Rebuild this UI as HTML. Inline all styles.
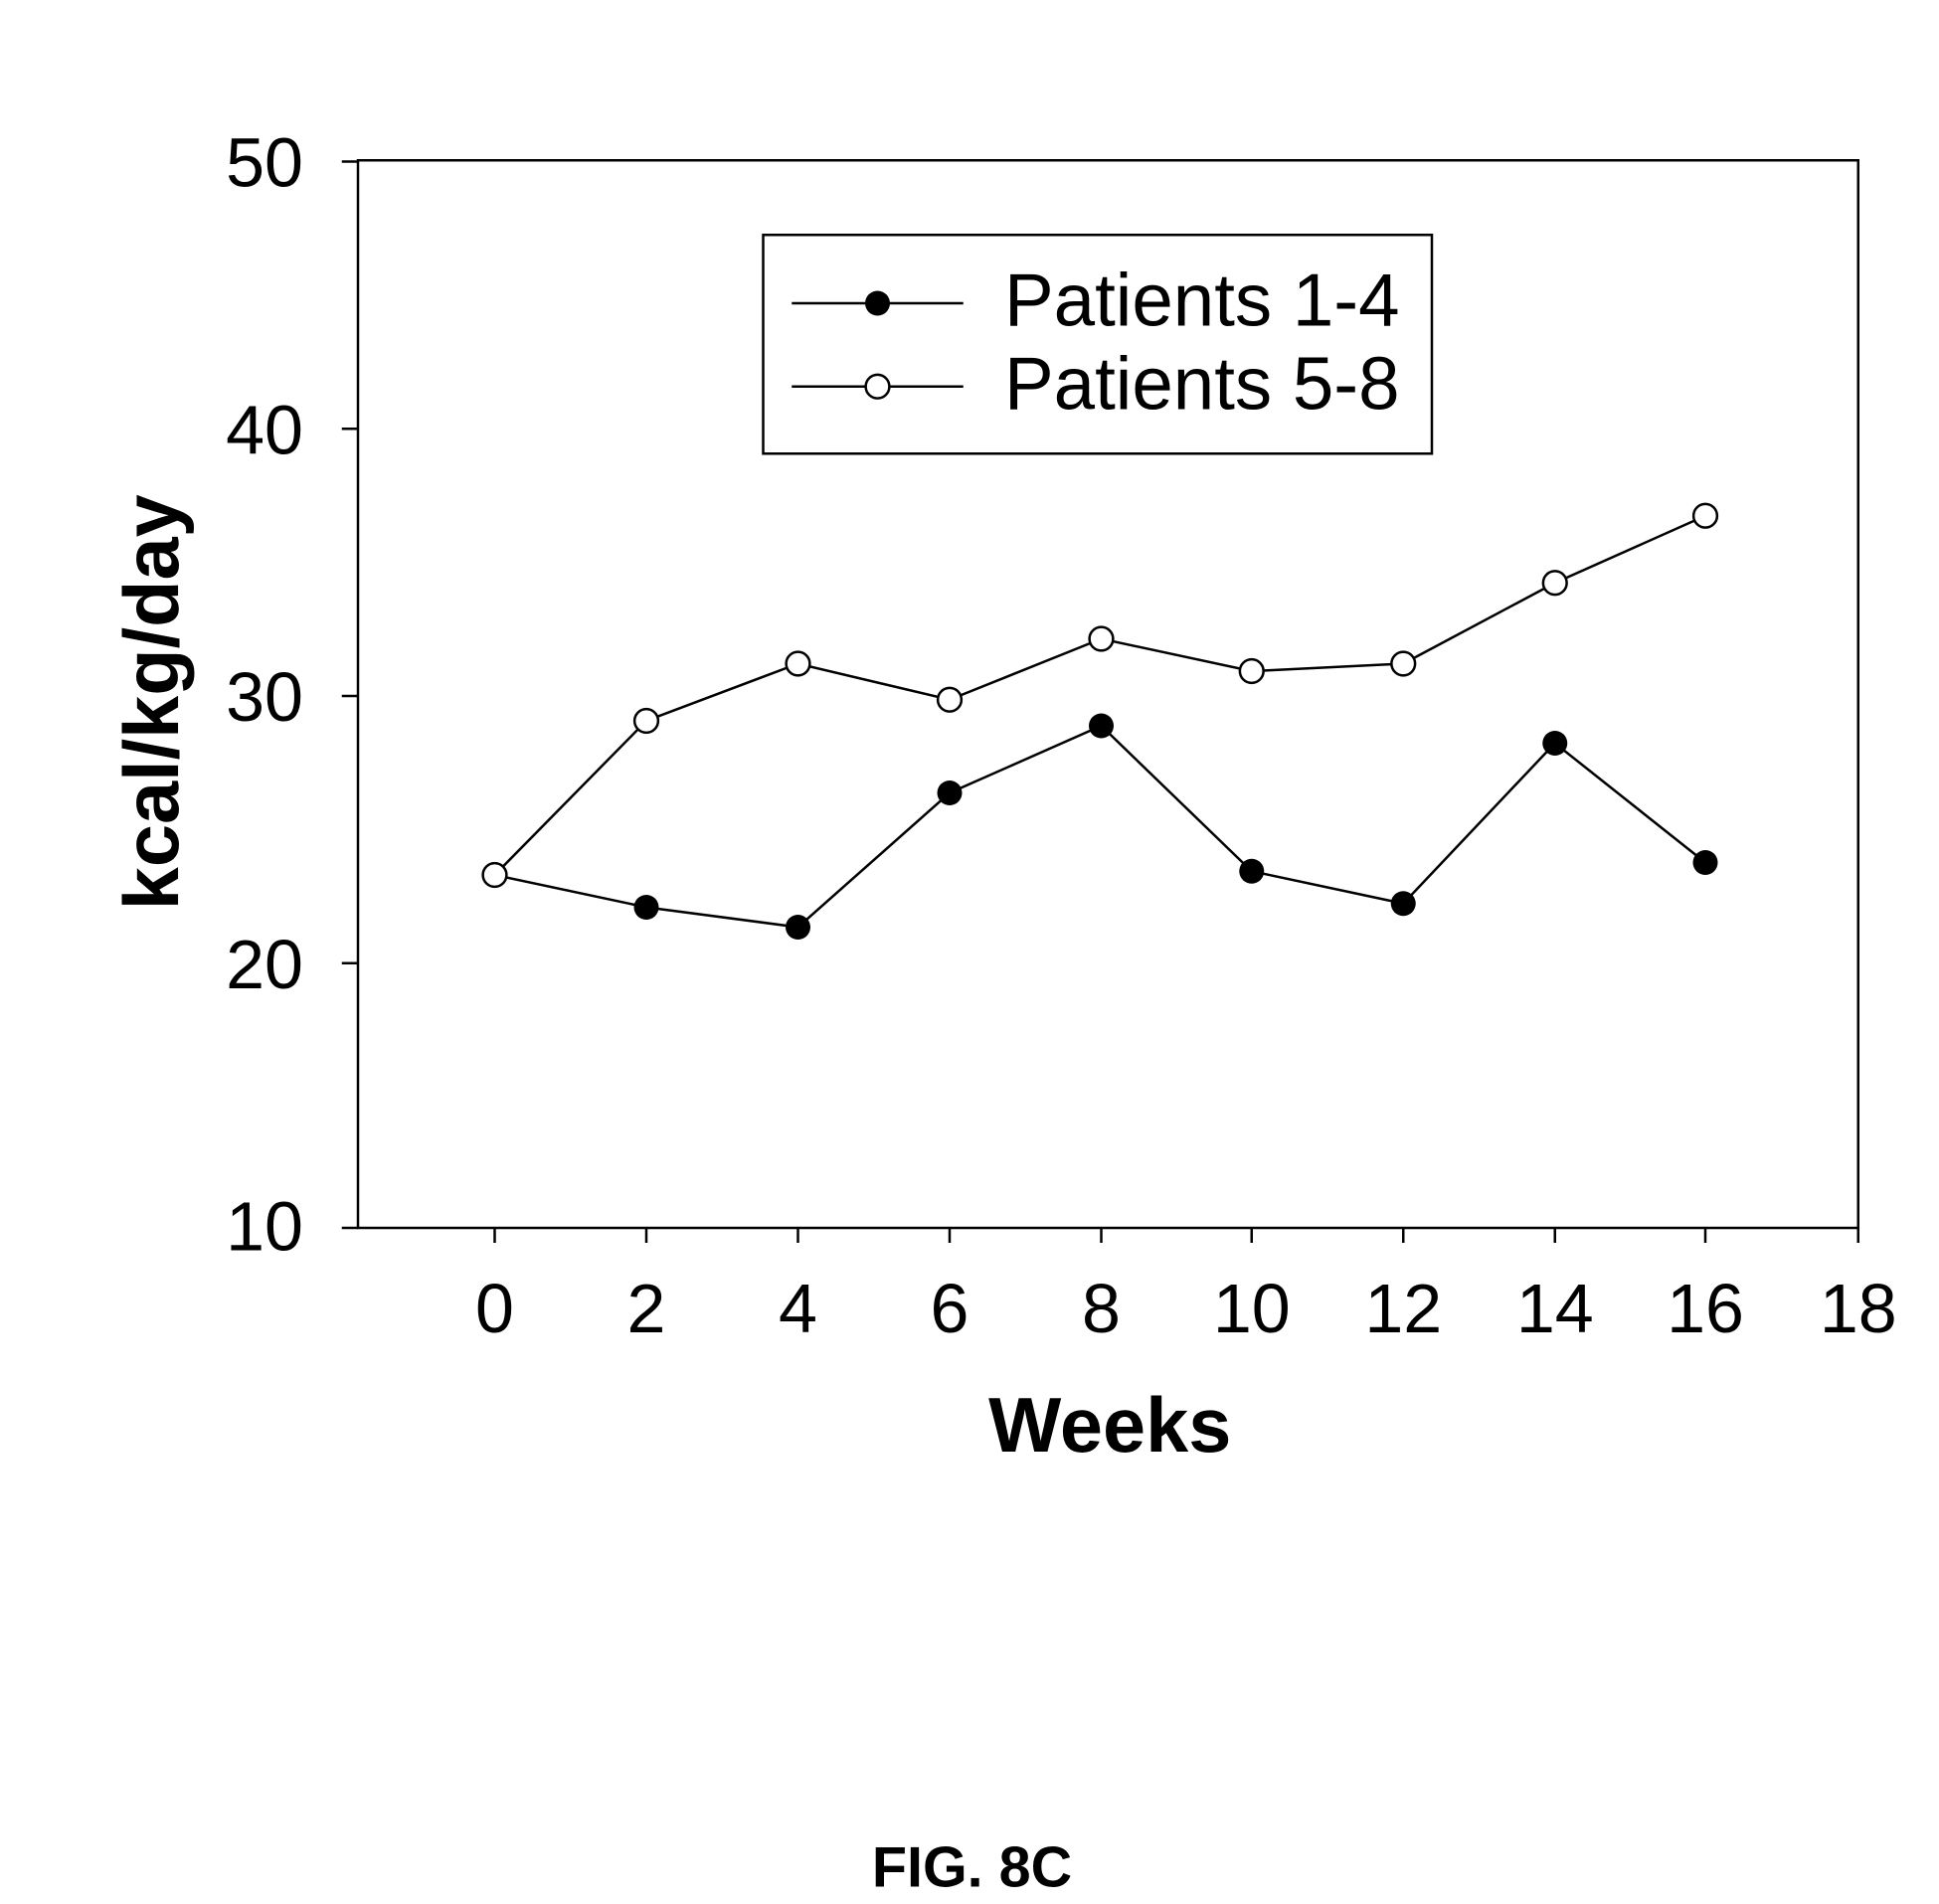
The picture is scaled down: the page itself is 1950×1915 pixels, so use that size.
<!DOCTYPE html>
<html><head><meta charset="utf-8"><style>
html,body{margin:0;padding:0;background:#fff;}
svg{display:block;}
text{font-family:"Liberation Sans",Arial,sans-serif;fill:#000;}
</style></head><body>
<svg width="1950" height="1915" viewBox="0 0 1560 1532" preserveAspectRatio="none" xmlns="http://www.w3.org/2000/svg">
<rect x="288" y="129" width="1207" height="859" fill="none" stroke="#000" stroke-width="2"/>
<g stroke="#000" stroke-width="2">
<line x1="275" y1="130" x2="288" y2="130"/><line x1="275" y1="345" x2="288" y2="345"/>
<line x1="275" y1="560" x2="288" y2="560"/><line x1="275" y1="775" x2="288" y2="775"/>
<line x1="275" y1="988" x2="288" y2="988"/>
<line x1="398" y1="988" x2="398" y2="1000"/><line x1="520" y1="988" x2="520" y2="1000"/>
<line x1="642" y1="988" x2="642" y2="1000"/><line x1="764" y1="988" x2="764" y2="1000"/>
<line x1="886" y1="988" x2="886" y2="1000"/><line x1="1007" y1="988" x2="1007" y2="1000"/>
<line x1="1129" y1="988" x2="1129" y2="1000"/><line x1="1251" y1="988" x2="1251" y2="1000"/>
<line x1="1372" y1="988" x2="1372" y2="1000"/><line x1="1495" y1="988" x2="1495" y2="1000"/>
</g>
<g font-size="56" text-anchor="end">
<text x="244" y="150">50</text><text x="244" y="365">40</text><text x="244" y="580">30</text>
<text x="244" y="795">20</text><text x="244" y="1006">10</text>
</g>
<g font-size="56" text-anchor="middle">
<text x="398" y="1072">0</text><text x="520" y="1072">2</text><text x="642" y="1072">4</text>
<text x="764" y="1072">6</text><text x="886" y="1072">8</text><text x="1007" y="1072">10</text>
<text x="1129" y="1072">12</text><text x="1251" y="1072">14</text><text x="1372" y="1072">16</text>
<text x="1495" y="1072">18</text>
</g>
<text x="893" y="1168" font-size="62" font-weight="bold" text-anchor="middle">Weeks</text>
<text transform="translate(143,565) rotate(-90)" font-size="62" font-weight="bold" text-anchor="middle">kcal/kg/day</text>
<text x="782" y="1518" font-size="46" font-weight="bold" text-anchor="middle">FIG. 8C</text>
<polyline fill="none" stroke="#000" stroke-width="2" points="398,704 520,580 642,534 764,563 886,514 1007,540 1129,534 1251,469 1372,415"/>
<polyline fill="none" stroke="#000" stroke-width="2" points="398,704 520,730 642,746 764,638 886,584 1007,701 1129,727 1251,598 1372,694"/>
<g fill="#fff" stroke="#000" stroke-width="2">
<circle cx="398" cy="704" r="9.5"/><circle cx="520" cy="580" r="9.5"/><circle cx="642" cy="534" r="9.5"/>
<circle cx="764" cy="563" r="9.5"/><circle cx="886" cy="514" r="9.5"/><circle cx="1007" cy="540" r="9.5"/>
<circle cx="1129" cy="534" r="9.5"/><circle cx="1251" cy="469" r="9.5"/><circle cx="1372" cy="415" r="9.5"/>
</g>
<g fill="#000">
<circle cx="520" cy="730" r="10"/><circle cx="642" cy="746" r="10"/><circle cx="764" cy="638" r="10"/>
<circle cx="886" cy="584" r="10"/><circle cx="1007" cy="701" r="10"/><circle cx="1129" cy="727" r="10"/>
<circle cx="1251" cy="598" r="10"/><circle cx="1372" cy="694" r="10"/>
</g>
<rect x="614" y="189" width="538" height="176" fill="#fff" stroke="#000" stroke-width="2"/>
<line x1="637" y1="244" x2="775" y2="244" stroke="#000" stroke-width="2"/>
<circle cx="706" cy="244" r="10" fill="#000"/>
<line x1="637" y1="311" x2="775" y2="311" stroke="#000" stroke-width="2"/>
<circle cx="706" cy="311" r="9.5" fill="#fff" stroke="#000" stroke-width="2"/>
<text x="808" y="262" font-size="60" textLength="318" lengthAdjust="spacingAndGlyphs">Patients 1-4</text>
<text x="808" y="329" font-size="60" textLength="318" lengthAdjust="spacingAndGlyphs">Patients 5-8</text>
</svg>
</body></html>
